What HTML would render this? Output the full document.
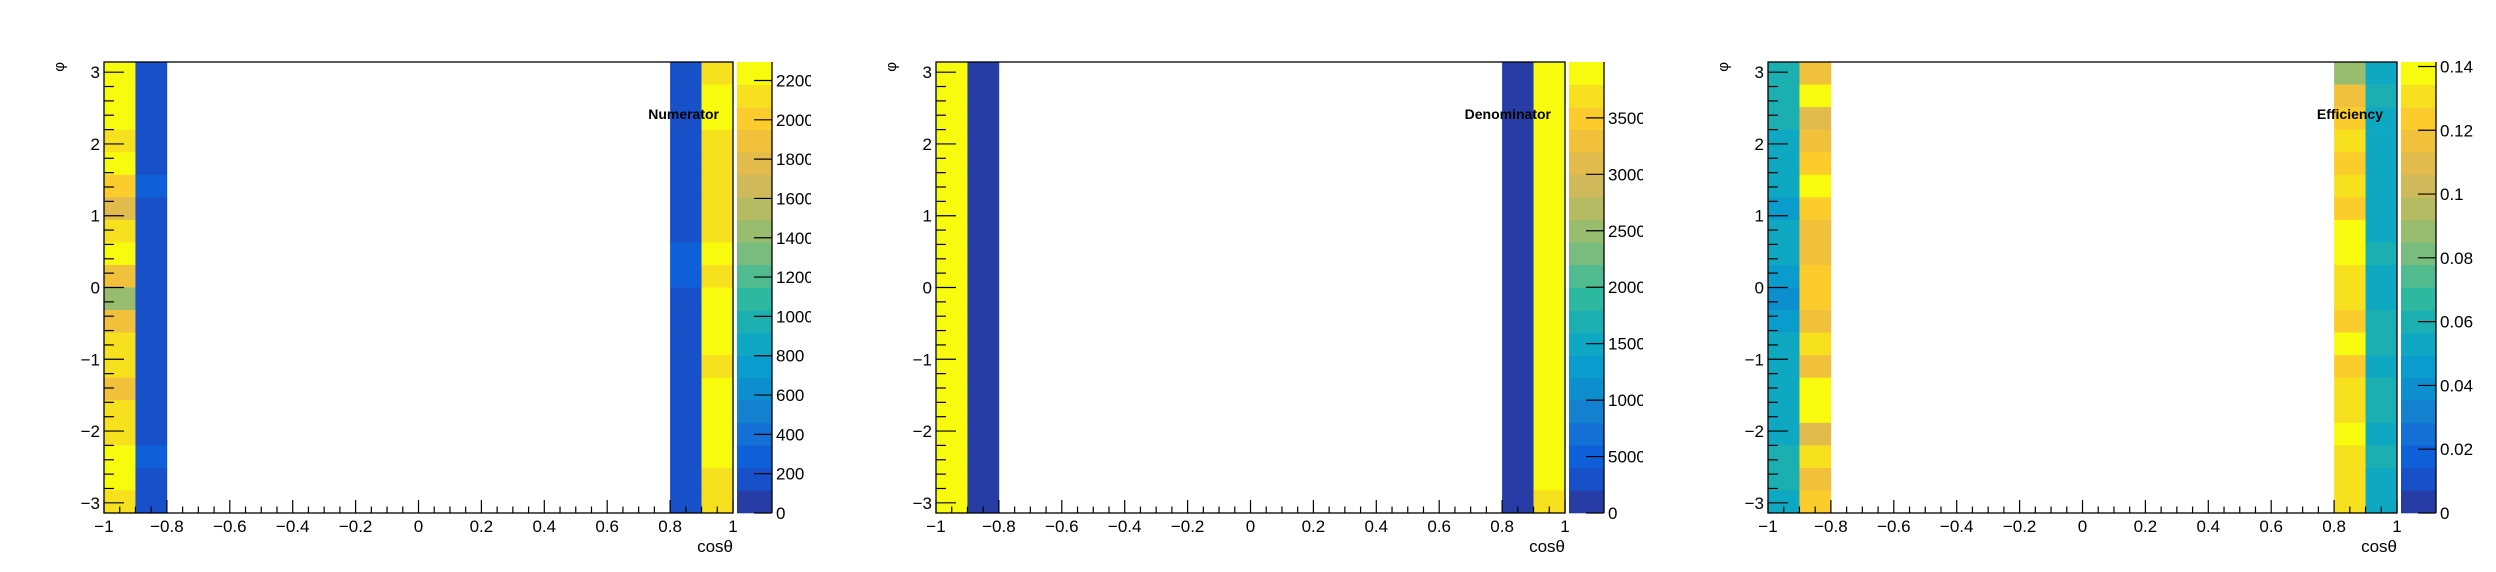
<!DOCTYPE html>
<html><head><meta charset="utf-8">
<style>
html,body{margin:0;padding:0;background:#fff;}
svg{display:block;font-family:"Liberation Sans",sans-serif;}
</style></head>
<body>
<svg id="root" width="2496" height="572" viewBox="0 0 2496 572" xmlns="http://www.w3.org/2000/svg"></svg>
<script>
// Data: 20 phi bins listed from TOP (phi=+pi) to BOTTOM (phi=-pi); only cos bins 1,2,19,20 are filled
const panelTitles = ["Numerator", "Denominator", "Efficiency"];
const zMax = [2294, 3995, 0.1414];
const zTicks = [[0,200,400,600,800,1000,1200,1400,1600,1800,2000,2200],[0,500,1000,1500,2000,2500,3000,3500],[0,0.02,0.04,0.06,0.08,0.1,0.12,0.14]];
const zTickLabels = [["0","200","400","600","800","1000","1200","1400","1600","1800","2000","2200"],["0","5000","1000","1500","2000","2500","3000","3500"],["0","0.02","0.04","0.06","0.08","0.1","0.12","0.14"]];
const filledCosBins = [0, 1, 18, 19];
const numCol1 = [2240,2240,2240,2120,2240,2010,1780,2120,2240,1890,1430,1890,2120,2120,1890,2120,2120,2240,2240,2120];
const numCol2 = [170,170,170,170,170,290,170,170,170,170,170,170,170,170,170,170,170,290,170,170];
const numCol19 = [170,170,170,170,170,170,170,170,290,290,170,170,170,170,170,170,170,170,170,170];
const numCol20 = [2120,2240,2240,2120,2120,2120,2120,2120,2240,2120,2240,2240,2240,2120,2240,2240,2240,2240,2120,2120];
const denCol1 = [3900,3900,3900,3900,3900,3900,3900,3900,3900,3900,3900,3900,3900,3900,3900,3900,3900,3900,3900,3900];
const denCol2 = [100,100,100,100,100,100,100,100,100,100,100,100,100,100,100,100,100,100,100,100];
const denCol19 = [100,100,100,100,100,100,100,100,100,100,100,100,100,100,100,100,100,100,100,100];
const denCol20 = [3900,3900,3900,3900,3900,3900,3900,3900,3900,3900,3900,3900,3900,3900,3900,3900,3900,3900,3900,3700];
const effCol1 = [0.060,0.060,0.060,0.053,0.053,0.053,0.046,0.053,0.053,0.046,0.039,0.046,0.053,0.053,0.053,0.053,0.053,0.060,0.060,0.053];
const effCol2 = [0.117,0.138,0.110,0.117,0.124,0.138,0.124,0.117,0.117,0.124,0.124,0.117,0.131,0.117,0.138,0.138,0.110,0.131,0.117,0.124];
const effCol19 = [0.088,0.117,0.124,0.131,0.124,0.131,0.124,0.138,0.138,0.131,0.131,0.124,0.138,0.124,0.131,0.131,0.138,0.131,0.131,0.131];
const effCol20 = [0.053,0.060,0.053,0.053,0.053,0.053,0.053,0.053,0.060,0.053,0.053,0.060,0.060,0.053,0.060,0.060,0.053,0.060,0.053,0.053];
const panelCols = [[numCol1,numCol2,numCol19,numCol20],[denCol1,denCol2,denCol19,denCol20],[effCol1,effCol2,effCol19,effCol20]];
const xTickValues = [-1,-0.8,-0.6,-0.4,-0.2,0,0.2,0.4,0.6,0.8,1];
const xTickLabels = ["\u22121","\u22120.8","\u22120.6","\u22120.4","\u22120.2","0","0.2","0.4","0.6","0.8","1"];
const yTickValues = [-3,-2,-1,0,1,2,3];
const yTickLabels = ["\u22123","\u22122","\u22121","0","1","2","3"];

const palette = ["#283ca6","#1750c8","#0f5fd8","#1470d4","#1481d0","#0d8ecf","#0a9ccc","#0fa8c2","#1cafb2","#2db8a0","#50bb8e","#78bc7e","#98bd6e","#b4bb62","#d0b95a","#e1bc4c","#f2c13c","#fccc2c","#f7e11e","#f9fb0e"];
const NS = "http://www.w3.org/2000/svg";
const root = document.getElementById("root");
function mk(tag, attrs, parent){const e=document.createElementNS(NS,tag);for(const k in attrs)e.setAttribute(k,attrs[k]);(parent||root).appendChild(e);return e;}
const FL=104, FR=733, FT=62, FB=513, PL=737, PR=772;
const PI=Math.PI;

for(let p=0;p<3;p++){
  const ox=832*p;
  const g=mk("g",{transform:`translate(${ox},0)`});
  
  
  const sx=v=>FL+(v+1)/2*(FR-FL);
  const sy=v=>FB-(v+PI)/(2*PI)*(FB-FT);
  const sz=v=>FB-v/zMax[p]*(FB-FT);
  const colorOf=v=>palette[Math.max(0,Math.min(19,Math.floor(v/zMax[p]*20)))];
  const cg=mk("g",{},g);
  
  
  panelCols[p].forEach((col,ci)=>{
    const b=filledCosBins[ci];
    const x0=sx(-1+b*0.1), x1=sx(-1+(b+1)*0.1);
    col.forEach((v,ri)=>{
      const phiTop=PI-ri*2*PI/20, phiBot=PI-(ri+1)*2*PI/20;
      const y0=sy(phiTop), y1=sy(phiBot);
      const r=mk("rect",{x:x0,y:y0,width:x1-x0+0.3,height:y1-y0+0.3,fill:colorOf(v)},cg);
      
      
    });
  });
  const fr=mk("rect",{x:FL,y:FT,width:FR-FL,height:FB-FT,fill:"none",stroke:"#000","stroke-width":1.3},g);
  
  
  const xa=mk("g",{stroke:"#000","stroke-width":1.2},g);
  
  
  for(let i=0;i<=40;i++){const v=-1+i*0.05;const L=(i%4===0)?13:6.5;mk("line",{x1:sx(v),x2:sx(v),y1:FB,y2:FB-L},xa);}
  xTickValues.forEach((v,i)=>{const t=mk("text",{x:sx(v),y:532,"font-size":17,"text-anchor":"middle",stroke:"none",fill:"#000"},g);t.textContent=xTickLabels[i];
    
    });
  const xt=mk("text",{x:FR,y:552,"font-size":17,"text-anchor":"end",fill:"#000"},g);xt.textContent="cos\u03b8";
  
  
  const ya=mk("g",{stroke:"#000","stroke-width":1.2},g);
  
  
  for(let v=-3.2;v<=3.2001;v+=0.2){const vv=Math.round(v*10)/10;if(vv<-PI||vv>PI)continue;const major=Math.abs(vv-Math.round(vv))<1e-6;mk("line",{x1:FL,x2:FL+(major?20:10),y1:sy(vv),y2:sy(vv)},ya);}
  yTickValues.forEach((v,i)=>{const t=mk("text",{x:100,y:sy(v)+6,"font-size":17,"text-anchor":"end",fill:"#000"},g);t.textContent=yTickLabels[i];
    
    });
  const yt=mk("text",{x:0,y:0,"font-size":15,"text-anchor":"end",fill:"#000",transform:`translate(64,62) rotate(-90)`},g);yt.textContent="\u03c6";
  
  
  const pg=mk("g",{},g);
  
  
  for(let k=0;k<20;k++){const y0=sz((k+1)*zMax[p]/20), y1=sz(k*zMax[p]/20);mk("rect",{x:PL,y:y0,width:PR-PL,height:y1-y0+0.3,fill:palette[k]},pg);}
  mk("line",{x1:PR,x2:PR,y1:FT,y2:FB,stroke:"#000","stroke-width":1.3},pg);
  const clipId="clip"+p;
  const cp=mk("clipPath",{id:clipId},g);mk("rect",{x:PR,y:0,width:811-PR,height:572},cp);
  const lg=mk("g",{"clip-path":`url(#${clipId})`},g);
  zTicks[p].forEach((v,i)=>{
    mk("line",{x1:PR-18,x2:PR,y1:sz(v),y2:sz(v),stroke:"#000","stroke-width":1.2},pg);
    const t=mk("text",{x:776,y:sz(v)+6,"font-size":17,fill:"#000"},lg);t.textContent=zTickLabels[p][i];
    
    
  });
  const tt=mk("text",{x:719,y:119,"font-size":14,"font-weight":"bold","text-anchor":"end",fill:"#000"},g);tt.textContent=panelTitles[p];
  
  
}
</script>
</body></html>
